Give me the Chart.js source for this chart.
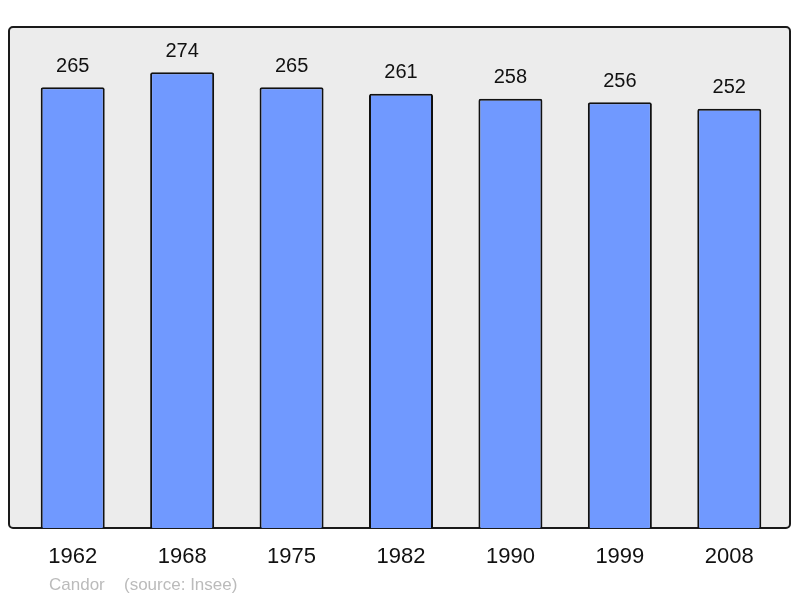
<!DOCTYPE html>
<html>
<head>
<meta charset="utf-8">
<script src="https://cdn.jsdelivr.net/npm/chart.js@4/dist/chart.umd.min.js"></script>
<style>
    html, body { margin: 0; padding: 0; background: #fff; }
    #wrap { width: 800px; height: 598px; }
</style>
</head>
<body>
<div id="wrap"><canvas id="chart" width="800" height="598"></canvas></div>
<script>
'use strict';

// années du recensement et population
const years = ['1962', '1968', '1975', '1982', '1990', '1999', '2008'];
const population = [265, 274, 265, 261, 258, 256, 252];
const footerName = 'Candor';
const footerSource = '(source: Insee)';

const FONT = '"Liberation Sans", Arial, sans-serif';

// fond gris avec cadre arrondi derrière les barres
const frame = {
    id: 'frame',
    beforeDatasetsDraw(chart) {
        const a = chart.chartArea;
        const ctx = chart.ctx;
        let x = a.left - 9, y = a.top - 2;
        let w = a.right + 6 - x, h = a.bottom - y;
        ctx.save();
        ctx.beginPath();
        ctx.roundRect(x, y, w, h, 4);
        ctx.fillStyle = '#ececec';
        ctx.fill();
        ctx.lineWidth = 2;
        ctx.strokeStyle = '#1a1a1a';
        ctx.stroke();
        ctx.restore();
    },
};

// valeurs au-dessus des barres, années en dessous, source
const labels = {
    id: 'labels',
    afterDraw(chart) {
        const ctx = chart.ctx;
        const xs = chart.scales.x;
        const ys = chart.scales.y;
        ctx.save();
        ctx.textAlign = 'center';
        ctx.textBaseline = 'middle';
        ctx.fillStyle = '#111';
        ctx.font = '20px ' + FONT;
        population.forEach((v, i) => {
            ctx.fillText(String(v), xs.getPixelForValue(i), ys.getPixelForValue(v) - 21);
        });
        ctx.font = '22px ' + FONT;
        years.forEach((y, i) => {
            ctx.fillText(y, xs.getPixelForValue(i), chart.chartArea.bottom + 29);
        });
        ctx.textAlign = 'left';
        ctx.font = '17px ' + FONT;
        ctx.fillStyle = '#bbbbbb';
        ctx.fillText(footerName, 49, 585);
        ctx.fillText(footerSource, 124, 585);
        ctx.restore();
    },
};

var cfg = {
    type: 'bar',
    data: {
        labels: years,
        datasets: [
            {
                data: population,
                backgroundColor: '#7099ff',
                borderColor: '#111',
                borderWidth: 2,
                borderRadius: 2,
                borderSkipped: 'bottom',
                categoryPercentage: 1,
                barPercentage: 0.585,
            },
        ],
    },
    options: {
        responsive: false,
        animation: false,
        layout: {
            padding: { left: 18, right: 16, top: 29, bottom: 70 },
        },
        plugins: {
            legend: { display: false },
            tooltip: { enabled: false },
        },
        scales: {
            x: { display: false },
            y: { display: false, min: 0, max: 300 },
        },
    },
    plugins: [frame, labels],
};

new Chart(document.getElementById('chart').getContext('2d'), cfg);
</script>
</body>
</html>
